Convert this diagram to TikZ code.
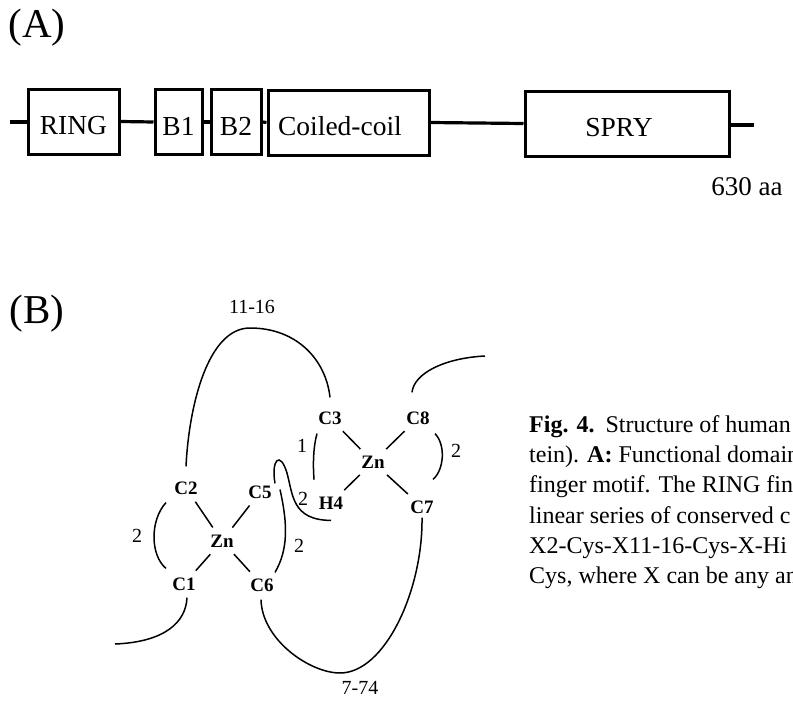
\documentclass[tikz,border=0pt]{standalone}
\usepackage{fontspec}
\setmainfont{Liberation Serif}
\newcommand{\fs}[1]{\fontsize{#1}{#1}\selectfont}
\tikzset{
 domainbox/.style={draw=black,line width=3pt,fill=white,inner sep=0pt,font=\fs{27.5},text height=26pt,text depth=0pt},
 linker/.style={line width=3.2pt},
 site/.style={font=\fs{19}\bfseries,inner sep=3pt},
 num/.style={font=\fs{20},inner sep=0pt},
 looptxt/.style={font=\fs{20},inner sep=0pt},
 panel/.style={font=\fs{41},inner sep=0pt},
 loopline/.style={line width=1.5pt},
 tie/.style={line width=1.5pt,shorten >=5pt,shorten <=5pt},
 captxt/.style={font=\fs{24},inner sep=0pt,anchor=base west},
}
\begin{document}
\begin{tikzpicture}[x=1pt,y=-1pt]
\useasboundingbox (0,0) rectangle (793,704);
\fill[white] (0,0) rectangle (793,704);
\node[panel] (pa) at (37,27.5) {(A)};
\node[panel] (pb) at (37,314) {(B)};
% domain bar
\coordinate (s) at (10,122);
\coordinate (e) at (754,125);
\node[domainbox,minimum width=91pt,minimum height=65pt] (ring) at (73.5,121.5) {RING};
\node[domainbox,minimum width=47pt,minimum height=65pt] (b1) at (178.5,122) {B1};
\node[domainbox,minimum width=50pt,minimum height=65pt] (b2) at (236,122) {B2};
\node[domainbox,minimum width=161pt,minimum height=65pt] (cc) at (348.5,122.5) {\hspace*{-17pt}Coiled-coil};
\node[domainbox,minimum width=204pt,minimum height=65pt] (spry) at (627,123.5) {\hspace*{-16pt}SPRY};
\draw[linker] (s) -- (ring.west |- s);
\draw[linker] (ring.east) -- (b1.west);
\draw[linker] (b1.east) -- (b2.west);
\draw[linker] (b2.east) -- (cc.west);
\draw[linker] (cc.east) -- (spry.west);
\draw[linker] (spry.east |- e) -- (e);
\node[font=\fs{27},inner sep=0pt] (aa) at (747,187) {630 aa};
% zinc sites
\node[site] (c3) at (330,418) {C3};
\node[site] (c8) at (418,418) {C8};
\node[site] (zb) at (373,462) {Zn};
\node[site] (h4) at (331,503) {H4};
\node[site] (c7) at (422,507) {C7};
\node[site] (c2) at (186,488) {C2};
\node[site] (c5) at (260,492) {C5};
\node[site] (za) at (222,541) {Zn};
\node[site] (c1) at (184,584) {C1};
\node[site] (c6) at (262,585) {C6};
\coordinate (freea) at (115,644);
\coordinate (freeb) at (485,356);
% ligand ties
\draw[tie] (c3) -- (zb);
\draw[tie] (c8) -- (zb);
\draw[tie] (h4) -- (zb);
\draw[tie] (c7) -- (zb);
\draw[tie] (c2) -- (za);
\draw[tie] (c5) -- (za);
\draw[tie] (c1) -- (za);
\draw[tie] (c6) -- (za);
% loops
\draw[loopline] ([yshift=12pt]c2.north) .. controls (189,405) and (208,328) .. (250,328) .. controls (297,328) and (326,360) .. ([yshift=11pt]c3.north);
\draw[loopline] ([xshift=-6pt,yshift=16pt]c8.north) .. controls (414,373) and (445,358) .. (freeb);
\draw[loopline] ([xshift=-13pt,yshift=-6pt]c3.south) .. controls (313,448) and (313,465) .. ([xshift=-17pt,yshift=14pt]h4.north);
\draw[loopline] ([xshift=17pt,yshift=-6pt]c8.south) .. controls (446,445) and (444,470) .. ([xshift=11pt,yshift=18pt]c7.north);
\draw[loopline] ([xshift=15pt,yshift=-1pt]c5.north) .. controls (271,460) and (280,450) .. (287,473) .. controls (293,495) and (292,520) .. ([yshift=-8pt]h4.south);
\draw[loopline] ([xshift=-20pt,yshift=-5pt]c2.south) .. controls (150,520) and (150,555) .. ([xshift=-18pt,yshift=6pt]c1.north);
\draw[loopline] ([xshift=20pt,yshift=12pt]c5.south) .. controls (288,525) and (288,550) .. ([xshift=13pt,yshift=3pt]c6.north);
\draw[loopline] ([xshift=-1pt,yshift=-5pt]c6.south) .. controls (262,640) and (310,673) .. (340,673) .. controls (385,673) and (423,590) .. ([yshift=-1pt]c7.south);
\draw[loopline] ([xshift=3pt,yshift=-4pt]c1.south) .. controls (186,622) and (165,642) .. (freea);
% numbers
\node[num] (n1) at (302,446) {1};
\node[num] (n2) at (456,451) {2};
\node[num] (n3) at (303,499) {2};
\node[num] (n4) at (137,536) {2};
\node[num] (n5) at (299,546) {2};
\node[looptxt] (l1) at (252,307) {11-16};
\node[looptxt] (l2) at (360,688) {7-74};
% caption
\node[captxt] (t1) at (529,432) {\textbf{Fig. 4.}\hspace{3pt} Structure of human};
\node[captxt] (t2) at (529,462) {tein). \textbf{A:} Functional domain};
\node[captxt] (t3) at (529,492) {finger motif. The RING fing};
\node[captxt] (t4) at (529,523) {linear series of conserved c};
\node[captxt] (t5) at (529,553) {X2-Cys-X11-16-Cys-X-Hi};
\node[captxt] (t6) at (529,583) {Cys, where X can be any an};
\end{tikzpicture}
\end{document}
